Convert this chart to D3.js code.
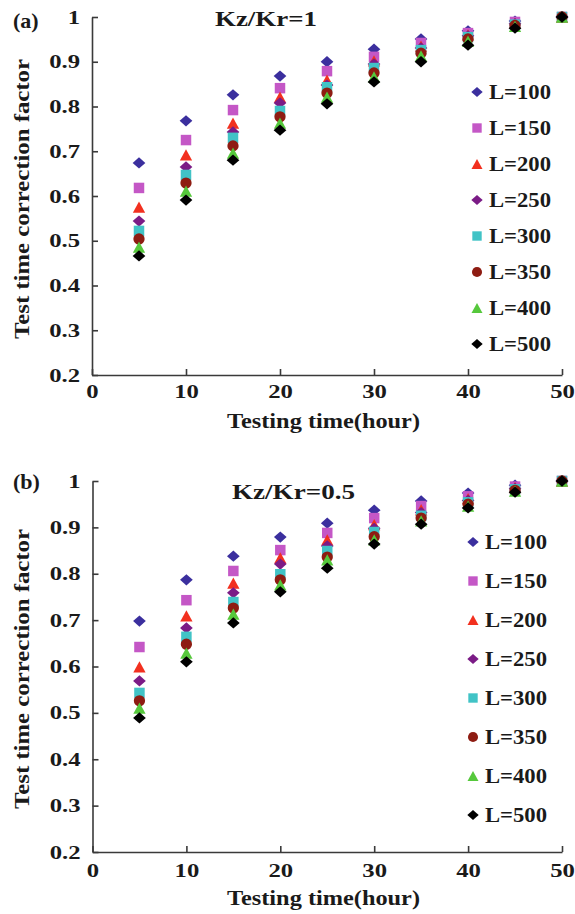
<!DOCTYPE html>
<html>
<head>
<meta charset="utf-8">
<script src="https://cdn.jsdelivr.net/npm/d3@7"></script>
<style>
  body { margin: 0; background: #fff; }
  svg text { font-family: "Times New Roman", "Liberation Serif", Tinos, serif; font-weight: bold; fill: #1a1a1a; }
</style>
</head>
<body>
<div id="container"></div>
<script>
/**
 * DATA
 * */
const hours = [5, 10, 15, 20, 25, 30, 35, 40, 45, 50];
const seriesNames = ["L=100", "L=150", "L=200", "L=250", "L=300", "L=350", "L=400", "L=500"];
const xTicks = [0, 10, 20, 30, 40, 50];
const yTicks = [0.2, 0.3, 0.4, 0.5, 0.6, 0.7, 0.8, 0.9, 1];

// (a) Kz/Kr=1
const a100 = [0.674, 0.768, 0.826, 0.868, 0.900, 0.928, 0.951, 0.969, 0.991, 1];
const a150 = [0.618, 0.725, 0.792, 0.841, 0.879, 0.911, 0.942, 0.964, 0.989, 1];
const a200 = [0.575, 0.692, 0.763, 0.821, 0.859, 0.902, 0.935, 0.960, 0.986, 1];
const a250 = [0.544, 0.665, 0.743, 0.808, 0.848, 0.895, 0.931, 0.958, 0.985, 1];
const a300 = [0.522, 0.647, 0.730, 0.790, 0.843, 0.886, 0.926, 0.955, 0.983, 1];
const a350 = [0.504, 0.629, 0.712, 0.777, 0.830, 0.875, 0.919, 0.951, 0.981, 1];
const a400 = [0.486, 0.611, 0.696, 0.763, 0.821, 0.866, 0.913, 0.946, 0.979, 1];
const a500 = [0.466, 0.591, 0.680, 0.747, 0.806, 0.855, 0.900, 0.937, 0.975, 1];

// (b) Kz/Kr=0.5
const b100 = [0.698, 0.787, 0.838, 0.879, 0.909, 0.937, 0.957, 0.974, 0.991, 1];
const b150 = [0.642, 0.743, 0.806, 0.851, 0.888, 0.920, 0.946, 0.967, 0.988, 1];
const b200 = [0.599, 0.709, 0.780, 0.834, 0.873, 0.906, 0.938, 0.962, 0.986, 1];
const b250 = [0.569, 0.683, 0.759, 0.821, 0.860, 0.898, 0.932, 0.958, 0.984, 1];
const b300 = [0.543, 0.664, 0.739, 0.799, 0.849, 0.890, 0.925, 0.954, 0.982, 1];
const b350 = [0.526, 0.648, 0.726, 0.787, 0.836, 0.880, 0.920, 0.950, 0.980, 1];
const b400 = [0.510, 0.629, 0.713, 0.776, 0.830, 0.873, 0.914, 0.946, 0.978, 1];
const b500 = [0.489, 0.610, 0.694, 0.761, 0.812, 0.864, 0.907, 0.942, 0.976, 1];

/**
 * STYLE
 * */
const colors = ["#3b2f9e", "#c457c6", "#f2301f", "#7b1b86", "#41c3c6", "#8e1c12", "#56c83c", "#000000"];

// wide diamond / triangle like the original markers
const wideDiamond = {
  draw(ctx, size) {
    const w = Math.sqrt(size) * 0.62, h = Math.sqrt(size) * 0.55;
    ctx.moveTo(0, -h); ctx.lineTo(w, 0); ctx.lineTo(0, h); ctx.lineTo(-w, 0); ctx.closePath();
  }
};
const wideTriangle = {
  draw(ctx, size) {
    const w = Math.sqrt(size) * 0.6, h = Math.sqrt(size) * 0.55;
    ctx.moveTo(0, -h); ctx.lineTo(w, h); ctx.lineTo(-w, h); ctx.closePath();
  }
};
const shapes = [wideDiamond, d3.symbolSquare, wideTriangle, wideDiamond, d3.symbolSquare, d3.symbolCircle, wideTriangle, wideDiamond];
const sizes = [105, 110, 105, 105, 110, 100, 105, 105];

const width = 575, height = 914;
const stretch = 1.3; // the source figure is a little wide in its text

const svg = d3.select("#container").append("svg")
  .attr("width", width).attr("height", height);

function widen(sel, k) {
  sel.each(function () {
    const len = this.getComputedTextLength();
    d3.select(this).attr("textLength", len * k).attr("lengthAdjust", "spacingAndGlyphs");
  });
}

function drawPanel(p) {
  const x = d3.scaleLinear().domain([0, 50]).range(p.xRange);
  const y = d3.scaleLinear().domain([0.2, 1]).range(p.yRange);
  const g = svg.append("g");

  // axes, ticks pointing inwards
  const yAxis = g.append("g")
    .attr("transform", `translate(${p.xRange[0]},0)`)
    .call(d3.axisLeft(y).tickValues(yTicks).tickSizeInner(-6).tickSizeOuter(0).tickPadding(12)
      .tickFormat(d => d === 1 ? "1" : d.toFixed(1)));
  const xAxis = g.append("g")
    .attr("transform", `translate(0,${p.yRange[0]})`)
    .call(d3.axisBottom(x).tickValues(xTicks).tickSizeInner(-6).tickSizeOuter(0).tickPadding(p.xPad)
      .tickFormat(d3.format("d")));

  [xAxis, yAxis].forEach(ax => {
    ax.attr("font-family", null).attr("font-size", null);
    ax.selectAll("path, line").attr("stroke", "#3a3a3a").attr("stroke-width", 1.6);
    ax.selectAll("text").attr("font-size", 19).call(widen, stretch);
  });

  // points, L=100 first so L=500 sits on top
  p.series.forEach((vals, i) => {
    g.append("g").selectAll("path")
      .data(vals.map((v, j) => ({ h: hours[j], v })))
      .join("path")
      .attr("d", d3.symbol(shapes[i], sizes[i]))
      .attr("transform", d => `translate(${x(d.h)},${y(d.v)})`)
      .attr("fill", colors[i]);
  });

  // legend
  const leg = g.append("g").selectAll("g")
    .data(seriesNames)
    .join("g")
    .attr("transform", (d, i) => `translate(${p.legX},${p.legY + i * p.legStep})`);
  leg.append("path")
    .attr("d", (d, i) => d3.symbol(shapes[i], sizes[i] * 0.8)())
    .attr("fill", (d, i) => colors[i]);
  leg.append("text")
    .attr("x", 12).attr("y", 6.5)
    .attr("font-size", 20)
    .attr("textLength", 62).attr("lengthAdjust", "spacingAndGlyphs")
    .text(d => d);

  // labels
  g.append("text").attr("x", 13).attr("y", p.tagY).attr("font-size", 22).text(p.tag);
  g.append("text").attr("x", p.titleX).attr("y", p.titleY).attr("font-size", 21)
    .attr("textLength", p.titleLen).attr("lengthAdjust", "spacingAndGlyphs").text(p.title);
  g.append("text").attr("x", 227).attr("y", p.yRange[0] + 53).attr("font-size", 20)
    .attr("textLength", 193).attr("lengthAdjust", "spacingAndGlyphs").text("Testing time(hour)");
  g.append("text")
    .attr("transform", `translate(29,${p.yTitleC}) rotate(-90)`)
    .attr("text-anchor", "middle").attr("font-size", 20)
    .attr("textLength", 280).attr("lengthAdjust", "spacingAndGlyphs")
    .text("Test time correction factor");
}

drawPanel({
  xRange: [92, 562], yRange: [375, 17], xPad: 10,
  series: [a100, a150, a200, a250, a300, a350, a400, a500],
  legX: 477, legY: 92, legStep: 36,
  tag: "(a)", tagY: 28,
  title: "Kz/Kr=1", titleX: 215, titleY: 26, titleLen: 102,
  yTitleC: 199
});

drawPanel({
  xRange: [92.5, 562], yRange: [852, 481], xPad: 12,
  series: [b100, b150, b200, b250, b300, b350, b400, b500],
  legX: 473, legY: 542, legStep: 39,
  tag: "(b)", tagY: 489,
  title: "Kz/Kr=0.5", titleX: 232, titleY: 499, titleLen: 123,
  yTitleC: 669
});
</script>
</body>
</html>
